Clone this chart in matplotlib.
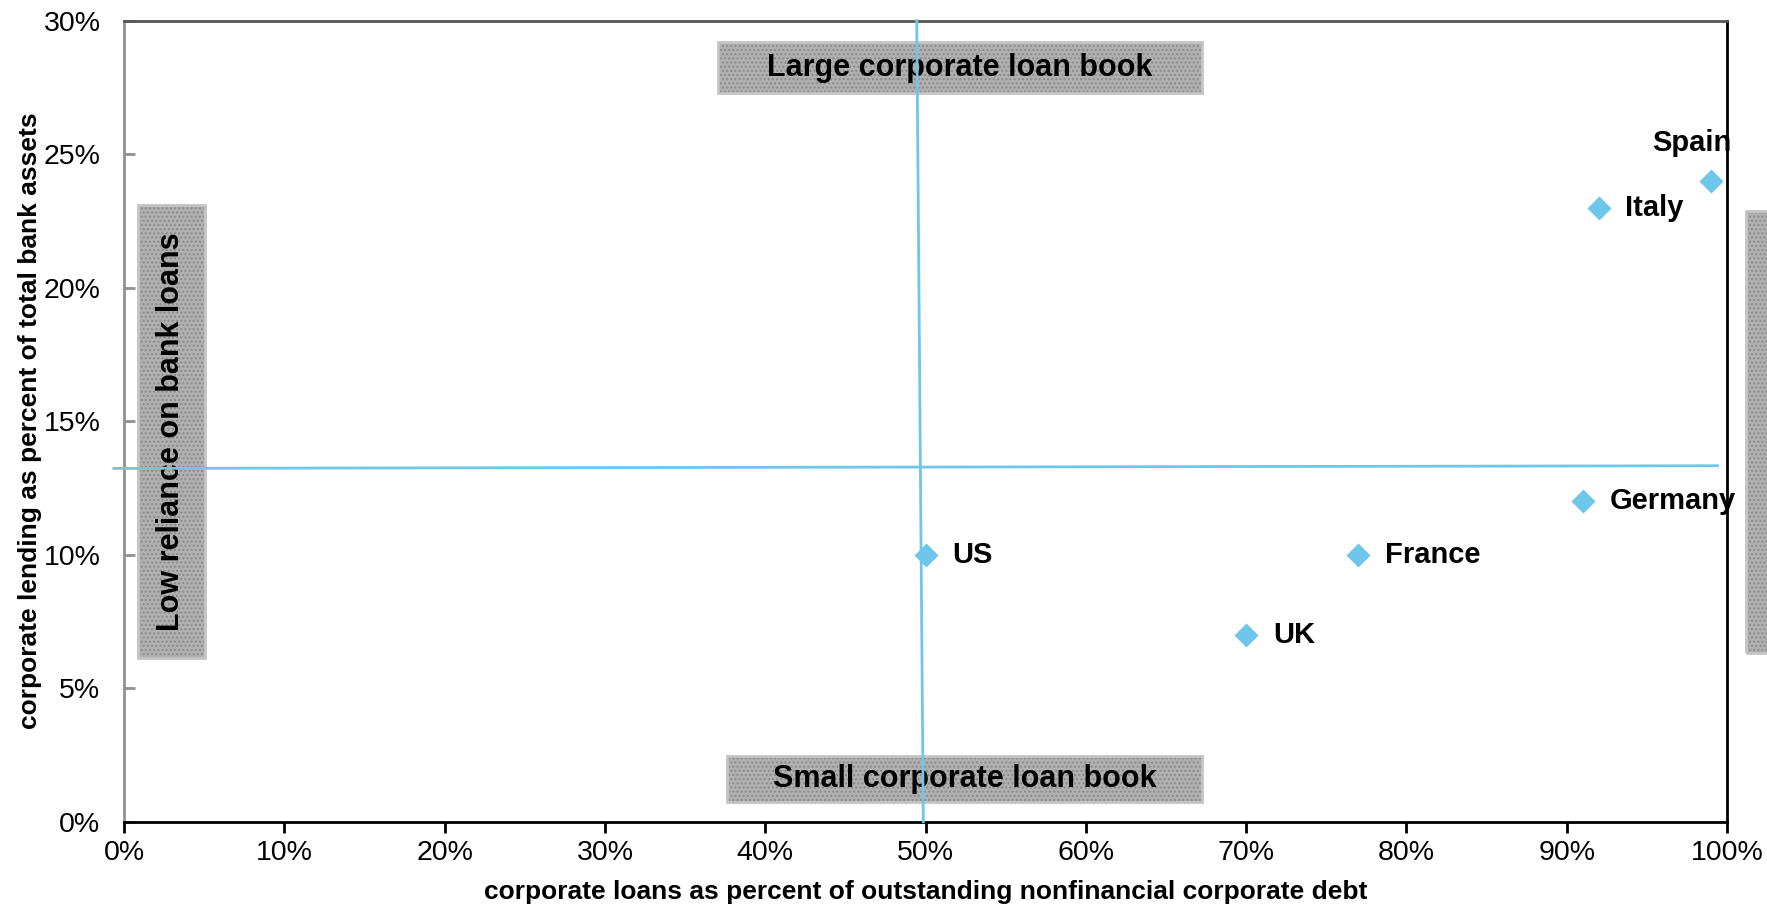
import matplotlib.pyplot as plt
from matplotlib.patches import Rectangle
from matplotlib.ticker import FuncFormatter

plt.rcParams['font.family'] = ['Liberation Sans', 'DejaVu Sans']

countries = ['US', 'UK', 'France', 'Germany', 'Italy', 'Spain']
loans_share = [50, 70, 77, 91, 92, 99]      # x, % of corporate debt
lending_share = [10, 7, 10, 12, 23, 24]     # y, % of bank assets
label_offsets = [(27, 0), (27, 0), (27, 0), (27, 0), (26, 0), (-19, 38)]
label_align = ['left', 'left', 'left', 'left', 'left', 'center']

x_ticks = [0, 10, 20, 30, 40, 50, 60, 70, 80, 90, 100]
y_ticks = [0, 5, 10, 15, 20, 25, 30]

blue = '#6ec6ea'

fig = plt.figure(figsize=(17.67, 9.06), dpi=100)
ax = fig.add_axes([0.0702, 0.0931, 0.9072, 0.8841])
ax.set_xlim(0, 100)
ax.set_ylim(0, 30)

ax.set_xticks(x_ticks)
ax.set_yticks(y_ticks)
pct = FuncFormatter(lambda v, p: '{:.0f}%'.format(v))
ax.xaxis.set_major_formatter(pct)
ax.yaxis.set_major_formatter(pct)
ax.tick_params(axis='x', direction='out', length=8, width=2, colors='black',
               labelsize=20.5, pad=5)
ax.tick_params(axis='y', direction='in', length=8, width=2, color='#909090',
               labelcolor='black', labelsize=20.5, pad=17)

ax.spines['left'].set_color('#909090')
ax.spines['left'].set_linewidth(2)
for s in ['bottom', 'right']:
    ax.spines[s].set_color('black')
    ax.spines[s].set_linewidth(2)
ax.spines['top'].set_color('#555555')
ax.spines['top'].set_linewidth(2)

ax.set_xlabel('corporate loans as percent of outstanding nonfinancial corporate debt',
              fontsize=19, fontweight='bold')
ax.set_ylabel('corporate lending as percent of total bank assets',
              fontsize=19, fontweight='bold')
ax.xaxis.set_label_coords(0.5, -0.073)
ax.yaxis.set_label_coords(-0.051, 0.5)


def shaded_box(x0, y0, x1, y1, text=None, rotation=0):
    ax.add_patch(Rectangle((x0, y0), x1 - x0, y1 - y0, facecolor='#b0b0b0',
                           edgecolor='#8a8a8a', linewidth=0, hatch='....',
                           clip_on=False, zorder=2))
    ax.add_patch(Rectangle((x0, y0), x1 - x0, y1 - y0, fill=False,
                           edgecolor='#c4c4c4', linewidth=2,
                           clip_on=False, zorder=2))
    if text:
        ax.text((x0 + x1) / 2, (y0 + y1) / 2, text, ha='center', va='center',
                rotation=rotation, fontsize=22, fontweight='bold',
                color='black', zorder=3, clip_on=False)


shaded_box(37.06, 27.29, 67.25, 29.2, 'Large corporate loan book')
shaded_box(37.6, 0.74, 67.25, 2.46, 'Small corporate loan book')
shaded_box(0.87, 6.13, 5.05, 23.1, 'Low reliance on bank loans', rotation=90)
shaded_box(101.2, 6.32, 105.4, 22.87)

# quadrant dividers
ax.plot([49.45, 49.86], [30, 0], color=blue, lw=2, zorder=4, clip_on=False)
ax.plot([-0.64, 99.4], [13.23, 13.33], color=blue, lw=2, zorder=4, clip_on=False)

ax.scatter(loans_share, lending_share, marker='D', s=150, color=blue,
           linewidths=0, zorder=5)

for name, x, y, off, ha in zip(countries, loans_share, lending_share,
                               label_offsets, label_align):
    ax.annotate(name, (x, y), xytext=off, textcoords='offset pixels',
                ha=ha, va='center', fontsize=21, fontweight='bold', zorder=6)

fig.savefig('out.png', dpi=100)
